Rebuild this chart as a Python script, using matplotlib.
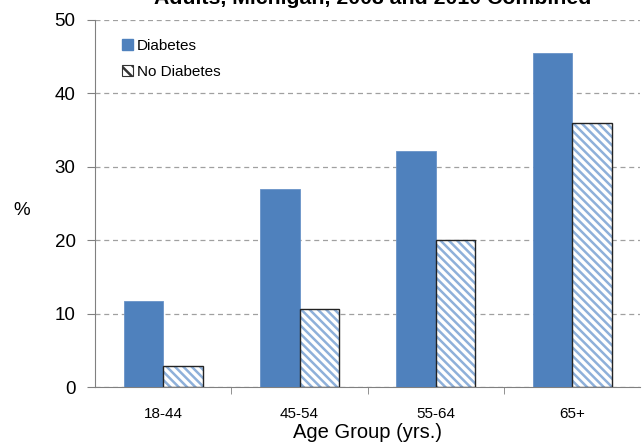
import matplotlib.pyplot as plt
import numpy as np

plt.rcParams['font.family'] = ['Liberation Sans', 'DejaVu Sans']
plt.rcParams['hatch.linewidth'] = 1.8

age_groups = ['18-44', '45-54', '55-64', '65+']
diabetes = [11.7, 27.0, 32.1, 45.5]
no_diabetes = [2.9, 10.7, 20.1, 35.9]

fig = plt.figure(figsize=(6.44, 4.42), dpi=100)
ax = fig.add_axes([0.1475, 0.124, 0.847, 0.831])

x = np.arange(len(age_groups))
w = 0.29
ax.bar(x - w / 2, diabetes, w, color='#4F81BD', edgecolor='#6A93C8', linewidth=0.6,
       label='Diabetes', zorder=3)
ax.bar(x + w / 2, no_diabetes, w, color='white', edgecolor='#8EB0DA', hatch='\\\\\\\\',
       linewidth=0, zorder=3)
# black outline on top of the hatched bars
ax.bar(x + w / 2, no_diabetes, w, color='none', edgecolor='#222222', linewidth=1.0, zorder=4)

# legend proxies
h1 = plt.Rectangle((0, 0), 1, 1, facecolor='#4F81BD', edgecolor='#4F81BD')
h2 = plt.Rectangle((0, 0), 1, 1, facecolor='white', edgecolor='#333333', hatch='\\\\\\',
                   linewidth=0.8)

ax.set_xlim(-0.5, 3.5)
ax.set_ylim(0, 50)
ax.set_yticks(range(0, 51, 10))
ax.yaxis.grid(True, linestyle=(0, (4, 3)), color='#A0A0A0', linewidth=0.9, zorder=0)
ax.set_xticks(x)
ax.set_xticklabels(age_groups, fontsize=11)
ax.set_xticks([0.5, 1.5, 2.5], minor=True)
ax.tick_params(axis='x', which='major', length=0, pad=14)
ax.tick_params(axis='x', which='minor', length=5, color='#808080')
ax.tick_params(axis='y', labelsize=13.5, length=6, direction='out', color='#808080', pad=8)
for s in ['top', 'right']:
    ax.spines[s].set_visible(False)
for s in ['left', 'bottom']:
    ax.spines[s].set_color('#808080')

ax.set_xlabel('Age Group (yrs.)', fontsize=14.5, labelpad=2)
ax.set_ylabel('%', fontsize=13.5, rotation=0, va='center', ha='center')
ax.yaxis.set_label_coords(-0.134, 0.48)

ax.legend([h1, h2], ['Diabetes', 'No Diabetes'], loc='upper left',
          bbox_to_anchor=(0.025, 0.985), frameon=False, fontsize=11,
          handlelength=0.7, handleheight=0.7, handletextpad=0.25, labelspacing=0.75)

fig.text(0.579, 0.990, 'Adults, Michigan, 2008 and 2010 Combined', ha='center',
         va='baseline', fontsize=15.3, fontweight='bold')

fig.savefig('out.png', dpi=100)
